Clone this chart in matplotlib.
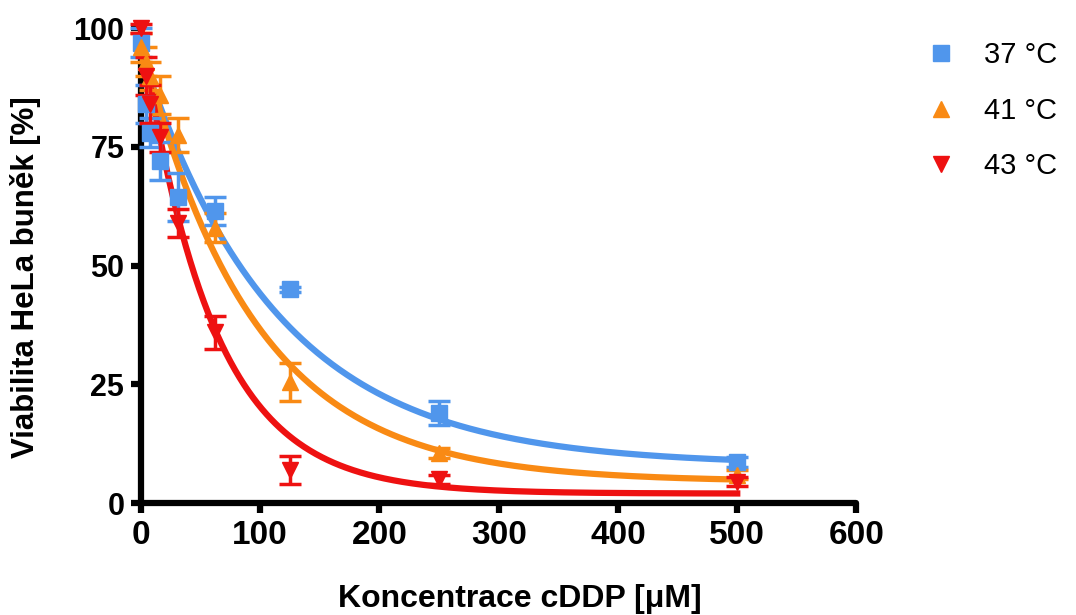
import numpy as np
import matplotlib
matplotlib.use("Agg")
import matplotlib.pyplot as plt

plt.rcParams['font.family'] = ['Liberation Sans', 'DejaVu Sans']

# concentrations of cDDP [uM]
conc = [0, 3.9, 7.8, 15.6, 31.25, 62.5, 125, 250, 500]

# viability [%] and error per temperature
v37 = [97, 84, 78, 72, 64.5, 61.5, 45, 19, 8.6]
e37 = [3, 4, 3, 4, 5, 3, 0.5, 2.5, 1]
v41 = [96, 93, 90, 86, 77.5, 58, 25.5, 10.5, 6]
e41 = [3, 3, 3, 4, 3.5, 3, 4, 1, 1]
v43 = [100, 90, 84, 77, 59, 36, 7, 5, 4.5]
e43 = [1, 4, 4, 3, 3, 3.5, 3, 1, 1]

# one-phase decay fit parameters: Y0, plateau, K
fit37 = (95, 8, 0.0088)
fit41 = (97, 4.5, 0.0106)
fit43 = (100, 2, 0.0168)

labels = ['37 °C', '41 °C', '43 °C']
colors = ['#5096ec', '#f98a14', '#ee1111']
markers = ['s', '^', 'v']

fig = plt.figure(figsize=(10.76, 6.15), dpi=100)
ax = fig.add_axes([0.131, 0.182, 0.665, 0.772])

xx = np.linspace(0, 500, 400)
series = [(v37, e37, fit37), (v41, e41, fit41), (v43, e43, fit43)]
handles = []
for (v, e, fit), c, m, lab in zip(series, colors, markers, labels):
    y0, pl, k = fit
    ax.plot(xx, (y0 - pl) * np.exp(-k * xx) + pl, color=c, lw=4.5, zorder=2, clip_on=False)
    ax.errorbar(conc, v, yerr=e, fmt='none', ecolor=c, elinewidth=2.5,
                capsize=8, capthick=2.5, zorder=3, clip_on=False)
    h, = ax.plot(conc, v, ls='none', marker=m, ms=12, color=c, mec=c,
                 zorder=4, clip_on=False, label=lab)
    handles.append(h)

ax.set_xlim(0, 600)
ax.set_ylim(0, 100)
ax.set_xticks([0, 100, 200, 300, 400, 500, 600])
ax.set_yticks([0, 25, 50, 75, 100])
for s in ['top', 'right']:
    ax.spines[s].set_visible(False)
for s in ['left', 'bottom']:
    ax.spines[s].set_linewidth(4.5)
    ax.spines[s].set_capstyle('round')
ax.tick_params(width=4.5, length=7, pad=5)
ax.tick_params(axis='x', labelsize=24)
ax.tick_params(axis='y', labelsize=22)
for t in ax.get_xticklabels() + ax.get_yticklabels():
    t.set_fontweight('bold')

ax.set_xlabel('Koncentrace cDDP [μM]', fontsize=23, fontweight='bold')
ax.set_ylabel('Viabilita HeLa buněk [%]', fontsize=22.5, fontweight='bold')
ax.xaxis.set_label_coords(0.53, -0.17)
ax.yaxis.set_label_coords(-0.14, 0.476)

fig.legend(handles=handles, loc='upper left', bbox_to_anchor=(0.839, 0.976),
           frameon=False, fontsize=21, handlelength=0.8, handletextpad=1.1,
           labelspacing=0.95, markerscale=1.0)

fig.savefig('out.png', dpi=100)
